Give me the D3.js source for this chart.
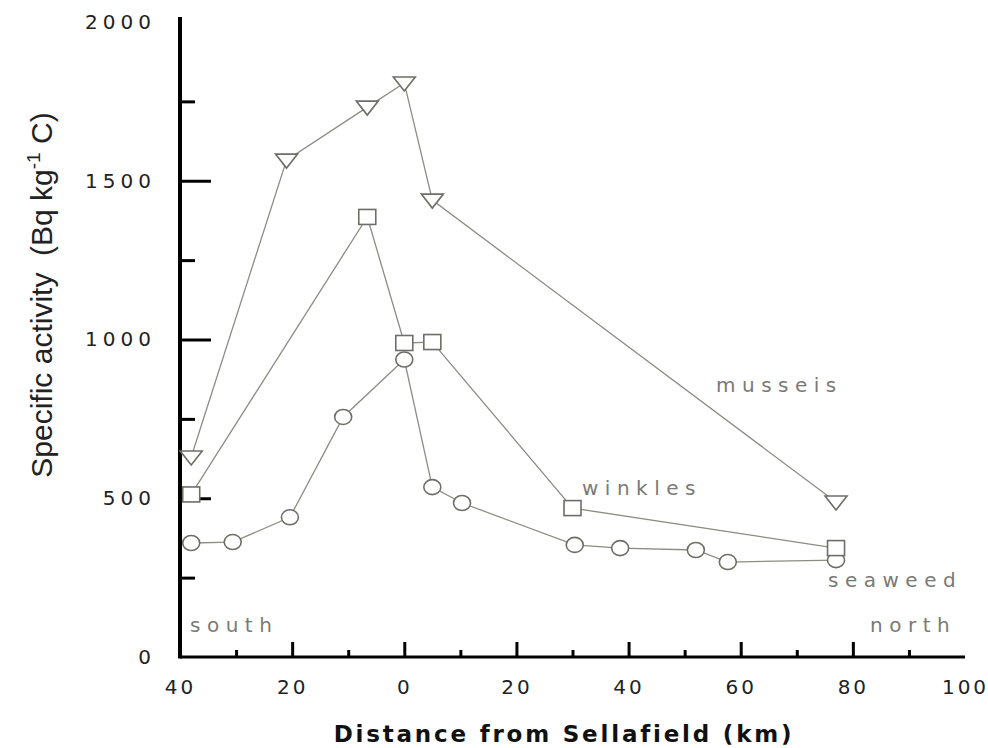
<!DOCTYPE html>
<html>
<head>
<meta charset="utf-8">
<script src="https://cdn.jsdelivr.net/npm/d3@7"></script>
<style>
  body { margin: 0; background: #fff; }
  svg { display: block; }
</style>
</head>
<body>
<svg id="chart" width="988" height="748"></svg>
<script>
// distances: negative = south of Sellafield, positive = north
var musselDist = [-38, -21, -6.6, 0, 5, 77];
var musselVal = [630, 1565, 1732, 1808, 1439, 488];

var winkleDist = [-38, -6.6, 0, 5, 30, 77];
var winkleVal = [512, 1386, 989, 992, 469, 343];

var seaweedDist = [-38, -30.6, -20.4, -10.9, 0, 5, 10.3, 30.4, 38.5, 52, 57.7, 77];
var seaweedVal = [359, 362, 440, 756, 937, 535, 485, 353, 343, 337, 299, 305];

var xMajor = [-20, 0, 20, 40, 60, 80];
var xMinor = [-30, -10, 10, 30, 50, 70, 90];
var xLabels = [-40, -20, 0, 20, 40, 60, 80, 100];
var yMajor = [500, 1000, 1500];
var yMinor = [250, 750, 1250, 1750];
var yLabels = [0, 500, 1000, 1500, 2000];

var svg = d3.select('#chart');
var x = d3.scaleLinear().domain([-40, 100]).range([180, 965]);
var y = d3.scaleLinear().domain([0, 2000]).range([657, 22]);

var lineColor = '#8c8c84';
var markColor = '#6e6e68';
var tickFont = '"DejaVu Sans", sans-serif';

function zip(a, b) {
  return a.map(function (d, i) { return [d, b[i]]; });
}

// ---- axes ----
// x tick labels (absolute distance)
var gxLab = svg.append('g')
  .attr('transform', 'translate(0,657)')
  .call(d3.axisBottom(x).tickValues(xLabels).tickSize(0).tickPadding(23)
    .tickFormat(function (d) { return Math.abs(d); }));
gxLab.select('.domain').remove();
gxLab.selectAll('text')
  .attr('font-family', tickFont).attr('font-size', 20)
  .attr('letter-spacing', 3).attr('fill', '#222');

// x ticks point upward
svg.append('g')
  .attr('transform', 'translate(0,657)')
  .call(d3.axisBottom(x).tickValues(xMajor).tickSize(-15).tickFormat(''))
  .call(function (g) { g.select('.domain').remove(); })
  .selectAll('line').attr('stroke', '#000').attr('stroke-width', 3);
svg.append('g')
  .attr('transform', 'translate(0,657)')
  .call(d3.axisBottom(x).tickValues(xMinor).tickSize(-7).tickFormat(''))
  .call(function (g) { g.select('.domain').remove(); })
  .selectAll('line').attr('stroke', '#000').attr('stroke-width', 3);

// y tick labels
var gyLab = svg.append('g')
  .attr('transform', 'translate(180,0)')
  .call(d3.axisLeft(y).tickValues(yLabels).tickSize(0).tickPadding(24)
    .tickFormat(d3.format('d')));
gyLab.select('.domain').remove();
gyLab.selectAll('text')
  .attr('font-family', tickFont).attr('font-size', 20)
  .attr('letter-spacing', 5).attr('fill', '#222');

// y ticks point right
svg.append('g')
  .attr('transform', 'translate(180,0)')
  .call(d3.axisLeft(y).tickValues(yMajor).tickSize(-31).tickFormat(''))
  .call(function (g) { g.select('.domain').remove(); })
  .selectAll('line').attr('stroke', '#000').attr('stroke-width', 3);
svg.append('g')
  .attr('transform', 'translate(180,0)')
  .call(d3.axisLeft(y).tickValues(yMinor).tickSize(-15).tickFormat(''))
  .call(function (g) { g.select('.domain').remove(); })
  .selectAll('line').attr('stroke', '#000').attr('stroke-width', 3);

// axis lines
svg.append('line')
  .attr('x1', x(-40)).attr('x2', x(100)).attr('y1', y(0)).attr('y2', y(0))
  .attr('stroke', '#000').attr('stroke-width', 3);
svg.append('line')
  .attr('x1', x(-40)).attr('x2', x(-40)).attr('y1', y(0) + 1.5).attr('y2', 17)
  .attr('stroke', '#000').attr('stroke-width', 4);

// axis titles
svg.append('text')
  .attr('x', 564).attr('y', 742)
  .attr('text-anchor', 'middle')
  .attr('font-family', tickFont).attr('font-weight', 'bold')
  .attr('font-size', 23).attr('letter-spacing', 2.8)
  .attr('fill', '#111')
  .text('Distance from Sellafield (km)');

var yt = svg.append('text')
  .attr('transform', 'translate(52,295) rotate(-90)')
  .attr('text-anchor', 'middle')
  .attr('font-family', '"Liberation Sans Narrow", "Liberation Sans", sans-serif')
  .attr('font-size', 30)
  .style('white-space', 'pre')
  .attr('fill', '#222');
yt.append('tspan').text('Specific activity  (Bq kg');
yt.append('tspan').attr('dy', -12).attr('font-size', 19).text('-1');
yt.append('tspan').attr('dy', 12).text(' C)');

// ---- series ----
var line = d3.line()
  .x(function (d) { return x(d[0]); })
  .y(function (d) { return y(d[1]); });

var mussels = zip(musselDist, musselVal);
var winkles = zip(winkleDist, winkleVal);
var seaweed = zip(seaweedDist, seaweedVal);

[mussels, winkles, seaweed].forEach(function (s) {
  svg.append('path')
    .datum(s)
    .attr('d', line)
    .attr('fill', 'none')
    .attr('stroke', lineColor)
    .attr('stroke-width', 1.3);
});

// seaweed: open circles
svg.append('g').selectAll('ellipse')
  .data(seaweed).enter().append('ellipse')
  .attr('cx', function (d) { return x(d[0]); })
  .attr('cy', function (d) { return y(d[1]); })
  .attr('rx', 8.5).attr('ry', 7.5)
  .attr('fill', '#fff').attr('stroke', markColor).attr('stroke-width', 1.6);

// winkles: open squares
svg.append('g').selectAll('rect')
  .data(winkles).enter().append('rect')
  .attr('x', function (d) { return x(d[0]) - 8.5; })
  .attr('y', function (d) { return y(d[1]) - 7.5; })
  .attr('width', 17).attr('height', 15)
  .attr('fill', '#fff').attr('stroke', markColor).attr('stroke-width', 1.6);

// mussels: open down-pointing triangles
svg.append('g').selectAll('path')
  .data(mussels).enter().append('path')
  .attr('transform', function (d) { return 'translate(' + x(d[0]) + ',' + y(d[1]) + ')'; })
  .attr('d', 'M-11,-6L11,-6L0,8Z')
  .attr('fill', '#fff').attr('stroke', markColor).attr('stroke-width', 1.6);

// series / direction labels
var labels = [
  { t: 'musseis', x: 716, y: 392 },
  { t: 'winkles', x: 582, y: 495 },
  { t: 'seaweed', x: 828, y: 587 },
  { t: 'north', x: 870, y: 632 },
  { t: 'south', x: 190, y: 632 }
];
svg.append('g').selectAll('text')
  .data(labels).enter().append('text')
  .attr('x', function (d) { return d.x; })
  .attr('y', function (d) { return d.y; })
  .attr('font-family', tickFont).attr('font-size', 20)
  .attr('letter-spacing', 6.5)
  .attr('fill', '#7a7a74')
  .text(function (d) { return d.t; });
</script>
</body>
</html>
